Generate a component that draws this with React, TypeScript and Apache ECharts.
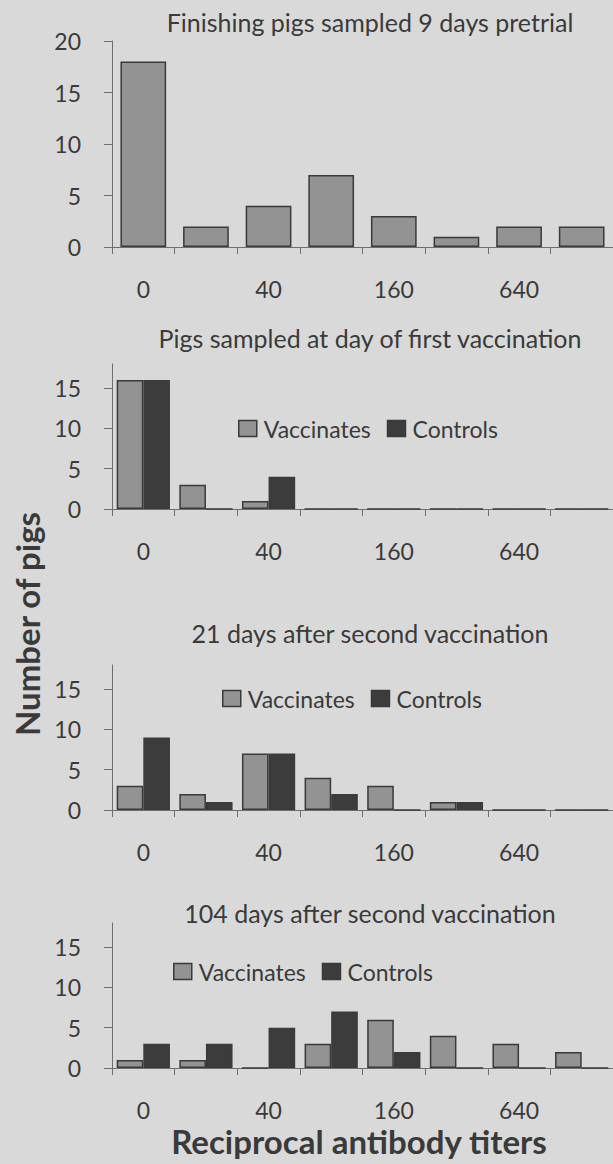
import React, { useEffect, useRef } from "react";
import * as echarts from "echarts";

const categories = ["0", "20", "40", "80", "160", "320", "640", "1280"];
const pretrial = [18, 2, 4, 7, 3, 1, 2, 2];
const firstVaccinates = [16, 3, 1, 0, 0, 0, 0, 0];
const firstControls = [16, 0, 4, 0, 0, 0, 0, 0];
const d21Vaccinates = [3, 2, 7, 4, 3, 1, 0, 0];
const d21Controls = [9, 1, 7, 2, 0, 1, 0, 0];
const d104Vaccinates = [1, 1, 0, 3, 6, 4, 3, 2];
const d104Controls = [3, 3, 5, 7, 2, 0, 0, 0];

const titles = [
  "Finishing pigs sampled 9 days pretrial",
  "Pigs sampled at day of first vaccination",
  "21 days after second vaccination",
  "104 days after second vaccination",
];
const yTitle = "Number of pigs";
const xTitle = "Reciprocal antibody titers";

const FONT = "Lato, 'Open Sans', sans-serif";
const TEXT = "#3a3a3a";
const VAC = "#939393";
const CON = "#3c3c3c";
const BORDER = "#3a3a3a";
const AXIS = "#6e6e6e";

export default function App() {
  const ref = useRef<HTMLDivElement>(null);
  useEffect(() => {
    if (!ref.current) return;
    const chart = echarts.init(ref.current, undefined, { renderer: "svg" });

    const grids = [
      { left: 112, right: 0, top: 41, height: 206 },
      { left: 112, right: 0, top: 364, height: 145 },
      { left: 112, right: 0, top: 665, height: 145 },
      { left: 112, right: 0, top: 923, height: 145 },
    ];
    const yMax = [20, 18, 18, 18];

    const xAxes = grids.map((_, i) => ({
      type: "category",
      gridIndex: i,
      data: categories,
      axisLine: { lineStyle: { color: AXIS, width: 1 } },
      axisTick: { show: true, interval: 0, length: 7, lineStyle: { color: AXIS } },
      axisLabel: {
        interval: 1,
        margin: 30,
        fontFamily: FONT,
        fontSize: 23,
        color: TEXT,
      },
    }));
    const yAxes = grids.map((_, i) => ({
      type: "value",
      gridIndex: i,
      min: 0,
      max: yMax[i],
      interval: 5,
      splitLine: { show: false },
      axisLine: { show: true, lineStyle: { color: AXIS, width: 1 } },
      axisTick: { show: true, length: 8, lineStyle: { color: AXIS } },
      axisLabel: {
        margin: 31,
        fontFamily: FONT,
        fontSize: 23,
        color: TEXT,
        showMaxLabel: i === 0,
        formatter: (v: number) => (v % 5 === 0 ? String(v) : ""),
      },
    }));

    const pairStyle = (color: string) => ({
      color,
      borderColor: BORDER,
      borderWidth: 1.5,
    });

    const series: any[] = [
      {
        type: "bar",
        name: "Pretrial",
        xAxisIndex: 0,
        yAxisIndex: 0,
        data: pretrial,
        barCategoryGap: "27%",
        itemStyle: pairStyle(VAC),
      },
    ];
    const pairs = [
      [firstVaccinates, firstControls],
      [d21Vaccinates, d21Controls],
      [d104Vaccinates, d104Controls],
    ];
    pairs.forEach(([v, c], k) => {
      series.push({
        type: "bar",
        name: "Vaccinates",
        xAxisIndex: k + 1,
        yAxisIndex: k + 1,
        data: v,
        barGap: "0%",
        barCategoryGap: "15%",
        itemStyle: pairStyle(VAC),
      });
      series.push({
        type: "bar",
        name: "Controls",
        xAxisIndex: k + 1,
        yAxisIndex: k + 1,
        data: c,
        barGap: "0%",
        barCategoryGap: "15%",
        itemStyle: pairStyle(CON),
      });
    });

    const legendPos = [
      { left: 233, top: 412 },
      { left: 217, top: 682 },
      { left: 168, top: 955 },
    ];
    const legends = legendPos.map((p) => ({
      ...p,
      orient: "horizontal",
      data: ["Vaccinates", "Controls"],
      icon: "rect",
      itemWidth: 18,
      itemHeight: 16,
      itemGap: 16,
      selectedMode: false,
      textStyle: { fontFamily: FONT, fontSize: 23, color: TEXT, padding: [0, 0, 0, 2] },
      itemStyle: { borderColor: BORDER, borderWidth: 1.5 },
    }));

    const titleY = [22, 338, 633, 913];
    const graphics: any[] = titles.map((t, i) => ({
      type: "text",
      x: 370,
      y: titleY[i],
      style: {
        text: t,
        font: `25px ${FONT}`,
        fill: TEXT,
        textAlign: "center",
        textVerticalAlign: "middle",
      },
    }));
    graphics.push({
      type: "text",
      x: 27,
      y: 624,
      rotation: Math.PI / 2,
      style: {
        text: yTitle,
        font: `bold 33px ${FONT}`,
        fill: TEXT,
        textAlign: "center",
        textVerticalAlign: "middle",
      },
    });
    graphics.push({
      type: "text",
      x: 359,
      y: 1141,
      style: {
        text: xTitle,
        font: `bold 33px ${FONT}`,
        fill: TEXT,
        textAlign: "center",
        textVerticalAlign: "middle",
      },
    });

    chart.setOption({
      animation: false,
      backgroundColor: "#d9d9d9",
      grid: grids,
      xAxis: xAxes,
      yAxis: yAxes,
      legend: legends,
      series,
      graphic: graphics,
    });
    return () => chart.dispose();
  }, []);
  return (
    <div
      ref={ref}
      style={{ position: "fixed", left: 0, top: 0, width: 613, height: 1164 }}
    />
  );
}
